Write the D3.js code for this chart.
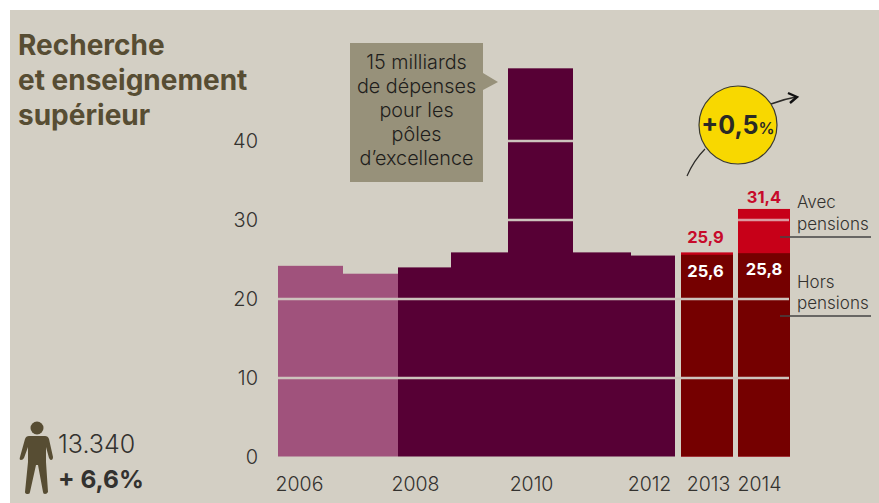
<!DOCTYPE html>
<html><head><meta charset="utf-8">
<script src="https://cdn.jsdelivr.net/npm/d3@7"></script>
<style>
html,body{margin:0;padding:0;background:#fff;overflow:hidden}
svg{display:block}
text{font-family:Inter,"Noto Sans",sans-serif}
</style></head><body><svg id="c" width="879" height="503"></svg>
<script>
const titleLines=["Recherche","et enseignement","supérieur"];
const calloutLines=["15 milliards","de dépenses","pour les","pôles","d’excellence"];
const years=["2006","2007","2008","2009","2010","2011","2012"];
const values=[24.2,23.2,24.0,25.9,49.2,25.9,25.5];
const lightYears=["2006","2007"];
const pairYears=["2013","2014"];
const horsPensions=[25.6,25.8];
const avecPensions=[25.9,31.4];
const yTicks=[0,10,20,30,40];
const xTickLabels=["2006","2008","2010","2012","2013","2014"];
const staffCount="13.340";
const staffChange="+ 6,6%";
const growthLabel="+0,5";

const bg="#d3cfc4",brown="#574d33",ink="#33322f";
const svg=d3.select("#c");
svg.append("rect").attr("x",10).attr("y",10).attr("width",869).attr("height",493).attr("fill",bg);

const y=d3.scaleLinear().domain([0,40]).range([457,141]);
const barBase=y(0)-0.5;
const xEdges=d3.scaleLinear().domain(d3.range(8)).range([278,343,398,451,508,573,631,675]);
const xPair=d3.scaleBand().domain(pairYears).range([681,790]).paddingInner(0.088);
const xLabel=d3.scaleOrdinal().domain(xTickLabels).range([299,415,531,649,708,759]);
const pairCentre=d=>xPair(d)+xPair.bandwidth()/2-(d==="2013"?1.5:0);

// bars
svg.append("g").selectAll("rect").data(years).join("rect")
 .attr("x",(d,i)=>xEdges(i)).attr("width",(d,i)=>xEdges(i+1)-xEdges(i))
 .attr("y",(d,i)=>y(values[i])).attr("height",(d,i)=>barBase-y(values[i]))
 .attr("fill",d=>lightYears.includes(d)?"#a0527c":"#570035");
svg.append("g").selectAll("rect").data(pairYears).join("rect")
 .attr("x",d=>xPair(d)).attr("width",xPair.bandwidth())
 .attr("y",(d,i)=>y(avecPensions[i])).attr("height",(d,i)=>barBase-y(avecPensions[i]))
 .attr("fill","#c70018");
svg.append("g").selectAll("rect").data(pairYears).join("rect")
 .attr("x",d=>xPair(d)).attr("width",xPair.bandwidth())
 .attr("y",(d,i)=>y(horsPensions[i])).attr("height",(d,i)=>barBase-y(horsPensions[i]))
 .attr("fill","#750000");

// grid lines over the bars
const gridC="#cdc3bd";
svg.append("g").selectAll("line").data([10,20]).join("line")
 .attr("x1",278).attr("x2",789).attr("y1",d=>y(d)).attr("y2",d=>y(d))
 .attr("stroke",gridC).attr("stroke-width",2.4);
svg.append("g").selectAll("line").data([30,40]).join("line")
 .attr("x1",xEdges(4)).attr("x2",xEdges(5)).attr("y1",d=>y(d)).attr("y2",d=>y(d))
 .attr("stroke",gridC).attr("stroke-width",2.4);
svg.append("line").attr("x1",xPair("2014")).attr("x2",789).attr("y1",y(30)).attr("y2",y(30))
 .attr("stroke","#dc9aa0").attr("stroke-width",2.4);

// axes
const yAxis=svg.append("g").attr("transform","translate(258,0)").call(d3.axisLeft(y).tickValues(yTicks).tickSize(0).tickPadding(0));
yAxis.select(".domain").remove();
yAxis.selectAll("text").attr("font-size",20).attr("font-weight",300).attr("fill",ink).attr("font-family","Inter").attr("dy","0.3em");
const xAxis=svg.append("g").attr("transform","translate(0,491)").call(d3.axisBottom(xLabel).tickValues(xTickLabels).tickSize(0).tickPadding(0));
xAxis.select(".domain").remove();
xAxis.selectAll("text").attr("font-size",19.5).attr("font-weight",300).attr("fill",ink).attr("font-family","Inter").attr("dy",0);

// title
svg.append("g").selectAll("text").data(titleLines).join("text")
 .attr("x",18).attr("y",(d,i)=>55+i*35).attr("font-size",28).attr("font-weight",700).attr("fill",brown).text(d=>d);

// callout
svg.append("path").attr("d","M350,43H483V73L498,82L483,90V182H350Z").attr("fill","#97917a");
svg.append("g").selectAll("text").data(calloutLines).join("text")
 .attr("x",416.5).attr("y",(d,i)=>69+i*24).attr("text-anchor","middle").attr("font-size",19.8).attr("font-weight",300).attr("fill","#1f1e1c").text(d=>d);

// growth badge
svg.append("path").attr("d","M687,176Q694,160 705,149").attr("fill","none").attr("stroke","#2c2b28").attr("stroke-width",1.2);
svg.append("path").attr("d","M771,104Q784,99 796,97").attr("fill","none").attr("stroke","#2c2b28").attr("stroke-width",1.5);
svg.append("path").attr("d","M788,93L797,97L790,103").attr("fill","none").attr("stroke","#111").attr("stroke-width",2.4);
svg.append("circle").attr("cx",738).attr("cy",125).attr("r",39).attr("fill","#f8d800").attr("stroke","#3a3a30").attr("stroke-width",1.2);
const badge=svg.append("text").attr("x",738).attr("y",134).attr("text-anchor","middle").attr("fill","#2a2a25");
badge.append("tspan").attr("font-size",25).attr("font-weight",700).text(growthLabel);
badge.append("tspan").attr("font-size",16).attr("font-weight",600).text("%");

// value labels
const avecGap=[9,6];
svg.append("g").selectAll("text").data(pairYears).join("text")
 .attr("x",pairCentre).attr("y",(d,i)=>y(avecPensions[i])-avecGap[i])
 .attr("text-anchor","middle").attr("font-size",16.5).attr("font-weight",700).attr("fill","#c70a2a")
 .text((d,i)=>String(avecPensions[i]).replace(".",","));
svg.append("g").selectAll("text").data(pairYears).join("text")
 .attr("x",pairCentre).attr("y",(d,i)=>y(horsPensions[i])+22)
 .attr("text-anchor","middle").attr("font-size",16.5).attr("font-weight",700).attr("fill","#fff")
 .text((d,i)=>String(horsPensions[i]).replace(".",","));

// legends
const legend=[["Avec",208],["pensions",230],["Hors",288],["pensions",309]];
svg.append("g").selectAll("text").data(legend).join("text")
 .attr("x",797).attr("y",d=>d[1]).attr("font-size",17).attr("font-weight",300).attr("fill",ink).text(d=>d[0]);
svg.append("g").selectAll("line").data([237,316]).join("line")
 .attr("x1",780).attr("x2",871).attr("y1",d=>d).attr("y2",d=>d).attr("stroke","#444").attr("stroke-width",1.3);

// person
svg.append("circle").attr("cx",37).attr("cy",428).attr("r",6.5).attr("fill",brown);
svg.append("path").attr("fill",brown).attr("d","M29,436H45Q48,436 49,439L53,457Q53,460 51,460Q50,460 49,458L46,447L46,462L48,492Q47,494 45,494Q43,494 43,492L38,465H36L30,492Q30,494 28,494Q25,494 25,492L28,462L28,447L24,458Q23,460 21,460Q19,460 20,457L25,439Q26,436 29,436Z");
svg.append("text").attr("x",58).attr("y",453).attr("font-size",25).attr("font-weight",300).attr("fill",ink).text(staffCount);
svg.append("text").attr("x",58).attr("y",488).attr("font-size",24.5).attr("font-weight",700).attr("fill",ink).text(staffChange);
</script></body></html>
